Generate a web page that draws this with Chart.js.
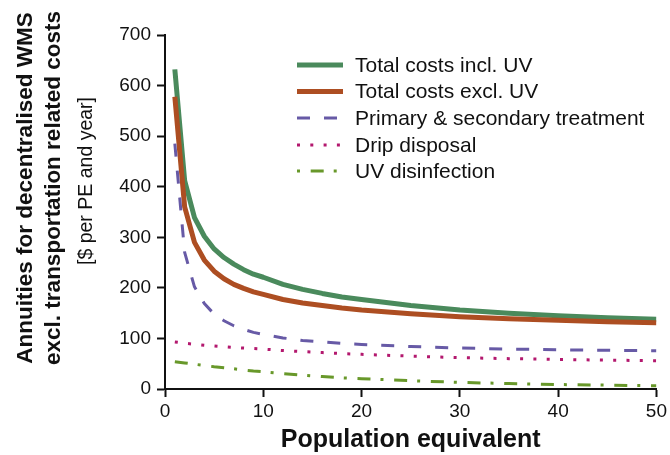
<!DOCTYPE html>
<html>
<head>
<meta charset="utf-8">
<script src="https://cdn.jsdelivr.net/npm/chart.js@4.4.1/dist/chart.umd.min.js"></script>
<style>
  html, body { margin: 0; padding: 0; background: #fff; }
  canvas { display: block; }
</style>
</head>
<body>
<canvas id="chart" width="670" height="455"></canvas>
<script>
// Population equivalent (PE) at which the annuities were evaluated
const populationEquivalent = [1, 2, 3, 4, 5, 6, 7, 8, 9, 10, 12, 14, 16, 18, 20, 25, 30, 35, 40, 45, 50];

// Annuities in $ per PE and year
const totalInclUV      = [632, 412, 339, 302, 277, 260, 247, 236, 227, 221, 207, 197, 189, 182, 177, 165, 156, 150, 145, 141, 138];
const totalExclUV      = [578, 360, 290, 255, 233, 218, 207, 199, 192, 187, 177, 170, 165, 160, 156, 149, 143, 139, 136, 133, 131];
const primarySecondary = [485, 270, 202, 169, 148, 135, 125, 118, 112, 108, 101, 96, 93, 90, 88, 84, 81, 79, 77.5, 76.5, 75.5];
const dripDisposal     = [93, 90.5, 88.5, 86.5, 85, 83.5, 82, 81, 80, 79, 76, 74, 72, 70, 68.5, 65, 62, 60, 58.5, 57, 56];
const uvDisinfection   = [54, 51.5, 49, 46.5, 44, 42, 40, 37.5, 35.5, 34, 30.5, 27.5, 24.5, 22, 20.5, 16.4, 13, 10.8, 8.8, 7.6, 6.5];

const seriesLabels = [
  'Total costs incl. UV',
  'Total costs excl. UV',
  'Primary & secondary treatment',
  'Drip disposal',
  'UV disinfection'
];

const xTickValues = [0, 10, 20, 30, 40, 50];
const yTickValues = [0, 100, 200, 300, 400, 500, 600, 700];

const xTitle = 'Population equivalent';
const yTitleLines = [
  'Annuities for decentralised WMS',
  'excl. transportation related costs',
  '[$ per PE and year]'
];

const FONT = '"Liberation Sans", Arial, Helvetica, sans-serif';
const INK = '#111111';

const seriesValues = [totalInclUV, totalExclUV, primarySecondary, dripDisposal, uvDisinfection];
const seriesStyles = [
  { color: '#4a8a5c', width: 5, dash: [], order: 5 },
  { color: '#ad4e22', width: 5, dash: [], order: 4 },
  { color: '#675aa6', width: 3, dash: [13, 14], order: 3 },
  { color: '#b3186e', width: 3, dash: [3, 10.3], order: 2 },
  { color: '#68982a', width: 3, dash: [13, 10, 3, 10.7], order: 1 }
];

const datasets = seriesValues.map((vals, i) => ({
  label: seriesLabels[i],
  data: populationEquivalent.map((pe, j) => ({ x: pe, y: vals[j] })),
  borderColor: seriesStyles[i].color,
  borderWidth: seriesStyles[i].width,
  borderDash: seriesStyles[i].dash,
  borderCapStyle: 'butt',
  borderJoinStyle: 'round',
  pointRadius: 0,
  tension: 0,
  fill: false,
  order: seriesStyles[i].order
}));

// Legend in the upper right of the plot area
const legendPlugin = {
  id: 'insetLegend',
  afterDraw(chart) {
    const ctx = chart.ctx;
    const x0 = 297, x1 = 343, textX = 355;
    const rows = [65, 91.5, 118, 145, 171];
    ctx.save();
    seriesLabels.forEach((label, i) => {
      const s = seriesStyles[i];
      const y = rows[i];
      ctx.beginPath();
      ctx.strokeStyle = s.color;
      ctx.lineWidth = s.width;
      ctx.lineCap = 'butt';
      ctx.setLineDash(s.dash);
      ctx.lineDashOffset = (i === 4) ? 23 : 0;
      ctx.moveTo(x0, y);
      ctx.lineTo(x1, y);
      ctx.stroke();
      ctx.setLineDash([]);
      ctx.fillStyle = INK;
      ctx.font = '21px ' + FONT;
      ctx.textAlign = 'left';
      ctx.textBaseline = 'middle';
      ctx.fillText(label, textX, y + 1);
    });
    ctx.restore();
  }
};

// Rotated three-line title of the value axis
const yTitlePlugin = {
  id: 'yTitle',
  afterDraw(chart) {
    const ctx = chart.ctx;
    const centers = [188, 188, 181];
    const xs = [26, 54, 87];
    const fonts = ['bold 22.5px ' + FONT, 'bold 22.5px ' + FONT, '19.5px ' + FONT];
    ctx.save();
    ctx.fillStyle = INK;
    yTitleLines.forEach((line, i) => {
      ctx.save();
      ctx.translate(xs[i], centers[i]);
      ctx.rotate(-Math.PI / 2);
      ctx.font = fonts[i];
      ctx.textAlign = 'center';
      ctx.textBaseline = 'middle';
      ctx.fillText(line, 0, 0);
      ctx.restore();
    });
    ctx.restore();
  }
};

new Chart(document.getElementById('chart'), {
  type: 'line',
  data: { datasets },
  options: {
    responsive: false,
    animation: false,
    layout: { padding: { top: 35, right: 12, left: 0, bottom: 0 } },
    plugins: {
      legend: { display: false },
      tooltip: { enabled: false },
      title: { display: false }
    },
    scales: {
      x: {
        type: 'linear',
        min: 0,
        max: 50,
        afterBuildTicks(scale) { scale.ticks = xTickValues.map(v => ({ value: v })); },
        afterFit(scale) { scale.height = 66; },
        ticks: {
          color: INK,
          font: { family: FONT, size: 19 },
          padding: 3,
          maxRotation: 0
        },
        grid: {
          display: true,
          drawOnChartArea: false,
          drawTicks: true,
          tickLength: 8,
          tickWidth: 2,
          tickColor: INK
        },
        border: { display: true, color: INK, width: 2 },
        title: {
          display: true,
          text: xTitle,
          color: INK,
          font: { family: FONT, size: 25, weight: 'bold' },
          padding: { top: 0, bottom: 0 }
        }
      },
      y: {
        type: 'linear',
        min: 0,
        max: 700,
        afterBuildTicks(scale) { scale.ticks = yTickValues.map(v => ({ value: v })); },
        afterFit(scale) { scale.width = 165; },
        ticks: {
          color: INK,
          font: { family: FONT, size: 19 },
          padding: 6
        },
        grid: {
          display: true,
          drawOnChartArea: false,
          drawTicks: true,
          tickLength: 8,
          tickWidth: 2,
          tickColor: INK
        },
        border: { display: true, color: INK, width: 2 }
      }
    }
  },
  plugins: [legendPlugin, yTitlePlugin]
});
</script>
</body>
</html>
